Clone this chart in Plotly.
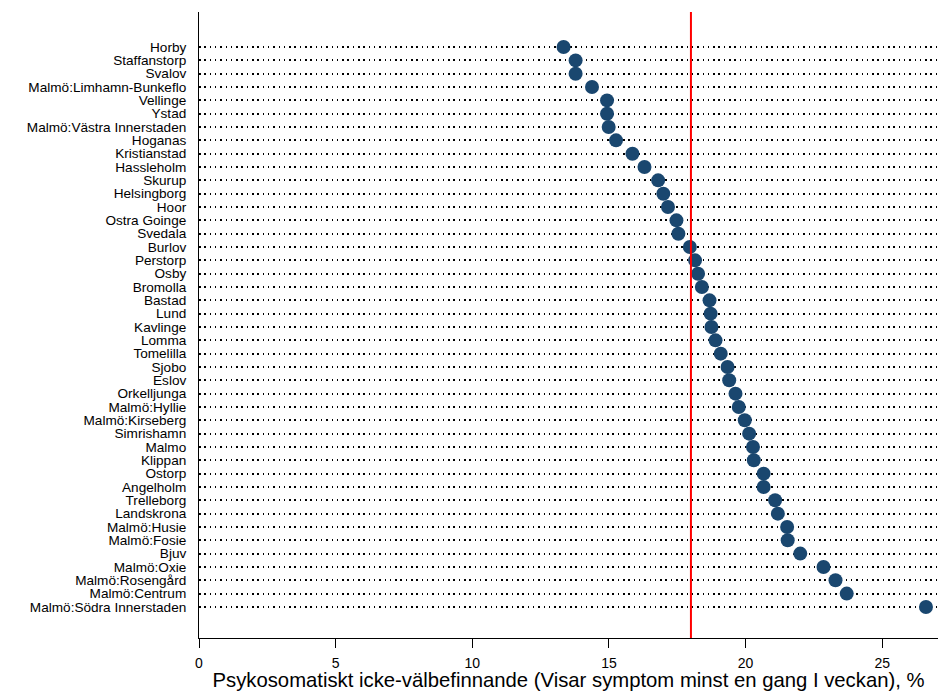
import plotly.graph_objects as go

# Municipalities / city districts, top to bottom
areas = [
    "Horby", "Staffanstorp", "Svalov", "Malmö:Limhamn-Bunkeflo", "Vellinge",
    "Ystad", "Malmö:Västra Innerstaden", "Hoganas", "Kristianstad", "Hassleholm",
    "Skurup", "Helsingborg", "Hoor", "Ostra Goinge", "Svedala", "Burlov",
    "Perstorp", "Osby", "Bromolla", "Bastad", "Lund", "Kavlinge", "Lomma",
    "Tomelilla", "Sjobo", "Eslov", "Orkelljunga", "Malmö:Hyllie",
    "Malmö:Kirseberg", "Simrishamn", "Malmo", "Klippan", "Ostorp", "Angelholm",
    "Trelleborg", "Landskrona", "Malmö:Husie", "Malmö:Fosie", "Bjuv",
    "Malmö:Oxie", "Malmö:Rosengård", "Malmö:Centrum", "Malmö:Södra Innerstaden",
]

# Share with psychosomatic symptoms at least once a week, %
share = [
    13.34, 13.78, 13.78, 14.38, 14.93,
    14.93, 14.99, 15.26, 15.86, 16.30,
    16.80, 16.99, 17.16, 17.47, 17.54, 17.96,
    18.15, 18.26, 18.40, 18.68, 18.72, 18.75, 18.90,
    19.09, 19.34, 19.40, 19.63, 19.75,
    19.97, 20.13, 20.27, 20.30, 20.66, 20.66,
    21.08, 21.18, 21.52, 21.54, 22.00,
    22.85, 23.29, 23.70, 26.60,
]

# Overall reference level
overall = 18.0

x_ticks = [0, 5, 10, 15, 20, 25]
x_title = "Psykosomatiskt icke-välbefinnande (Visar symptom minst en gang I veckan), %"

font_family = "Liberation Sans, Arial, Helvetica, sans-serif"

fig = go.Figure()
fig.add_trace(go.Scatter(
    x=share,
    y=areas,
    mode="markers",
    marker=dict(size=14, color="#1a476f", line=dict(width=0)),
    showlegend=False,
    hoverinfo="x+y",
))

fig.add_shape(
    type="line", xref="x", yref="paper",
    x0=overall, x1=overall, y0=0, y1=1,
    line=dict(color="#ff0000", width=2),
)

n = len(areas)
fig.update_layout(
    width=938, height=691,
    margin=dict(l=199, r=0, t=12, b=53),
    paper_bgcolor="white",
    plot_bgcolor="white",
    font=dict(family=font_family, color="black"),
    xaxis=dict(
        range=[0, 27.04],
        tickmode="array",
        tickvals=x_ticks,
        ticktext=[str(v) for v in x_ticks],
        ticks="outside",
        ticklen=9,
        tickcolor="black",
        tickfont=dict(size=14),
        ticklabelstandoff=3,
        showline=True,
        linecolor="black",
        linewidth=1,
        showgrid=False,
        zeroline=False,
        title=dict(text=x_title, font=dict(size=20.3), standoff=4),
    ),
    yaxis=dict(
        type="category",
        categoryorder="array",
        categoryarray=areas,
        tickmode="array",
        tickvals=areas,
        ticktext=areas,
        range=[n - 1 + 2.33, -2.63],
        ticks="",
        tickfont=dict(size=13.6),
        ticklabelstandoff=9,
        showline=True,
        linecolor="black",
        linewidth=1,
        showgrid=True,
        gridcolor="black",
        gridwidth=1.5,
        griddash="1.5px,3.8px",
        zeroline=False,
    ),
)

fig.write_html("out.html")
